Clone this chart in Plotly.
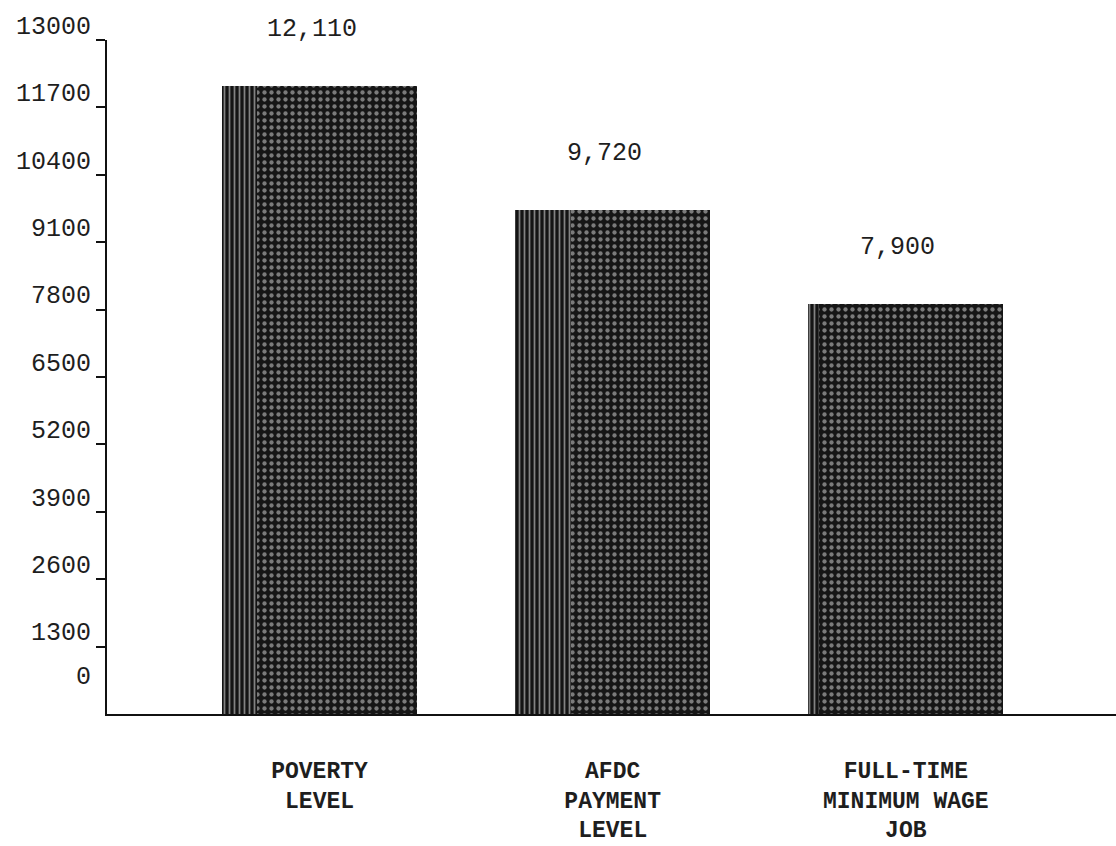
import plotly.graph_objects as go

# Annual income comparison (dollars)
categories = ["POVERTY<br>LEVEL", "AFDC<br>PAYMENT<br>LEVEL", "FULL-TIME<br>MINIMUM WAGE<br>JOB"]
values = [12110, 9720, 7900]
y_ticks = [1300, 2600, 3900, 5200, 6500, 7800, 9100, 10400, 11700, 13000]
y_tick_text = [str(v) for v in y_ticks]

FONT = "Liberation Mono, Courier New, monospace"
INK = "#1e1e1e"

fig = go.Figure()

# main bars: dark screen with a light dot grid
fig.add_trace(go.Bar(
    x=categories, y=values, width=0.665,
    marker=dict(
        color="#161616",
        line=dict(width=0),
        pattern=dict(shape=".", fillmode="overlay", bgcolor="#161616",
                     fgcolor="#e0e0e0", size=7, solidity=0.3),
    ),
    hoverinfo="skip", showlegend=False,
))

# vertical-ruled band along the left edge of each bar
stripe_widths = [0.12, 0.19, 0.035]
fig.add_trace(go.Bar(
    x=categories, y=values, width=stripe_widths,
    offset=-0.3325,
    marker=dict(
        color="#141414",
        line=dict(width=0),
        pattern=dict(shape="|", fillmode="overlay", bgcolor="#141414",
                     fgcolor="#f0f0f0", size=5, solidity=0.35),
    ),
    hoverinfo="skip", showlegend=False,
))

# value labels above the bars
for c, v in zip(categories, values):
    fig.add_annotation(
        x=c, y=v, text=f"{v:,}", showarrow=False,
        yanchor="bottom", yshift=40, xshift=-8,
        font=dict(family=FONT, size=25, color=INK),
    )

# zero label on the value axis
fig.add_annotation(
    xref="paper", x=0, y=0, text="0", showarrow=False,
    xanchor="right", xshift=-14, yshift=37,
    font=dict(family=FONT, size=25, color=INK),
)

fig.update_layout(
    width=1116, height=846,
    margin=dict(l=107, r=0, t=40, b=132),
    paper_bgcolor="white", plot_bgcolor="white",
    barmode="overlay", bargap=0,
    font=dict(family=FONT, color=INK),
)

fig.update_xaxes(
    range=[-0.725, 2.717],
    showline=True, linecolor="#111", linewidth=2,
    showgrid=False, ticks="", zeroline=False,
    tickfont=dict(family=FONT, size=23, color=INK, weight="bold"),
    ticklabelstandoff=34,
)

fig.update_yaxes(
    range=[0, 13000],
    tickvals=y_ticks, ticktext=y_tick_text,
    showline=True, linecolor="#111", linewidth=2,
    showgrid=False, zeroline=False,
    ticks="outside", ticklen=9, tickwidth=2, tickcolor="#111",
    ticklabelshift=-15, ticklabelstandoff=0,
    tickfont=dict(family=FONT, size=25, color=INK),
)

fig.write_html("out.html")
